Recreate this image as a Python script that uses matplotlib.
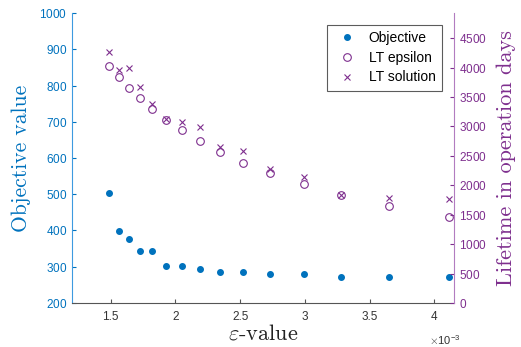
import numpy as np
import matplotlib
matplotlib.use('Agg')
import matplotlib.pyplot as plt

plt.rcParams['mathtext.fontset'] = 'cm'
plt.rcParams['axes.formatter.use_mathtext'] = True
plt.rcParams['font.family'] = ['Liberation Sans', 'DejaVu Sans']

# epsilon values (x), objective, lifetimes
eps = [1.49e-3, 1.56e-3, 1.64e-3, 1.725e-3, 1.82e-3, 1.93e-3, 2.05e-3, 2.19e-3,
       2.345e-3, 2.52e-3, 2.73e-3, 2.99e-3, 3.28e-3, 3.65e-3, 4.11e-3]
objective = [503, 399, 376, 343, 343, 303, 303, 295, 286, 286, 279, 279, 271, 271, 271]
lt_epsilon = [4029, 3847, 3659, 3484, 3297, 3110, 2934, 2752, 2570, 2383, 2202,
              2015, 1828, 1646, 1464]
lt_solution = [4272, 3961, 3989, 3671, 3377, 3121, 3075, 2995, 2655, 2587, 2270,
               2139, 1828, 1782, 1765]

blue = '#0072BD'
purple = '#7E2F8E'

fig = plt.figure(figsize=(5.21, 3.47), dpi=100)
ax = fig.add_axes([0.138, 0.127, 0.733, 0.835])
ax2 = ax.twinx()

h1, = ax.plot(eps, objective, 'o', color=blue, markersize=4, label='Objective')
h2, = ax2.plot(eps, lt_epsilon, 'o', mfc='none', mec=purple, markersize=5.5, mew=0.8, label='LT epsilon')
h3, = ax2.plot(eps, lt_solution, 'x', color=purple, markersize=4, mew=0.8, label='LT solution')

ax.set_xlim(1.2e-3, 4.15e-3)
ax.set_ylim(200, 1000)
ax2.set_ylim(0, 4925)
ax.set_xticks([1.5e-3, 2e-3, 2.5e-3, 3e-3, 3.5e-3, 4e-3])
ax.set_xticklabels(['1.5', '2', '2.5', '3', '3.5', '4'])
ax.set_yticks(np.arange(200, 1001, 100))
ax2.set_yticks(np.arange(0, 4501, 500))

for a in (ax, ax2):
    a.spines['top'].set_visible(False)
ax2.spines['left'].set_visible(False)
ax.spines['right'].set_visible(False)
ax.spines['left'].set_color('#3d9ae0')
ax2.spines['right'].set_color('#b27cc0')
ax.spines['bottom'].set_color('#555555')
ax2.spines['bottom'].set_visible(False)

ax.tick_params(axis='y', direction='in', colors=blue, labelsize=8.5, length=3)
ax.tick_params(axis='x', direction='in', colors='#555555', labelcolor='#333333', labelsize=8.5, length=3, pad=6)
ax2.tick_params(axis='y', direction='in', colors=purple, labelsize=8.5, length=3)

fig.text(0.823, 0.005, r'$\times\mathregular{10^{-3}}$', fontsize=8, color='#333333')

ax.set_ylabel('Objective value', family='cmr10', fontsize=15.5, color=blue, labelpad=6)
ax2.set_ylabel('Lifetime in operation days', family='cmr10', fontsize=16, color=purple, labelpad=7)
ax.set_xlabel(r'$\varepsilon$-value', family='cmr10', fontsize=16, color='#222222', labelpad=0)

leg = ax.legend(handles=[h1, h2, h3], loc='upper right', bbox_to_anchor=(0.969, 0.959),
                borderaxespad=0, fontsize=10, frameon=True, fancybox=False, edgecolor='#333333',
                handlelength=2.0, borderpad=0.45, labelspacing=0.4, handletextpad=0.55)
leg.get_frame().set_linewidth(0.8)

fig.savefig('out.png', dpi=100)
